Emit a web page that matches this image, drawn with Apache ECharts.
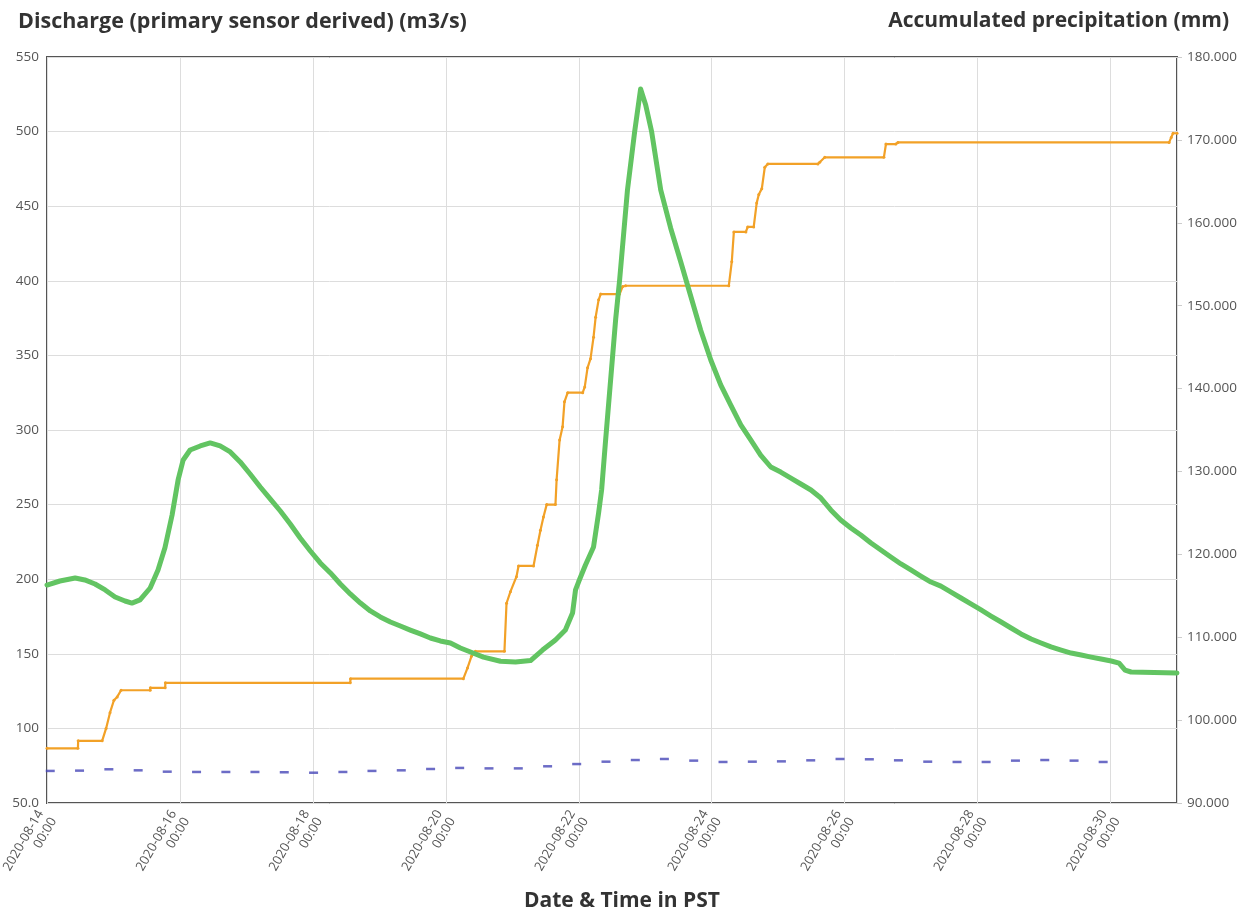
<!DOCTYPE html>
<html><head><meta charset="utf-8">
<script src="https://cdn.jsdelivr.net/npm/echarts@6/dist/echarts.min.js"></script>
<style>html,body{margin:0;padding:0;background:#fff}#c{width:1244px;height:916px}</style>
</head><body><div id="c"></div>
<script>
// Discharge (m3/s), left axis
const greenTimes = ['08-14 00:00','08-14 04:40','08-14 10:10','08-14 13:40','08-14 17:20','08-14 21:00','08-15 00:35','08-15 04:10','08-15 06:40','08-15 09:35','08-15 13:15','08-15 16:05','08-15 18:35','08-15 21:10','08-15 23:20','08-16 01:10','08-16 03:40','08-16 07:20','08-16 10:55','08-16 14:30','08-16 18:10','08-16 21:45','08-17 01:20','08-17 05:00','08-17 08:35','08-17 12:15','08-17 15:50','08-17 19:25','08-17 23:05','08-18 02:40','08-18 06:20','08-18 09:55','08-18 13:30','08-18 17:10','08-18 20:45','08-19 00:20','08-19 04:00','08-19 07:35','08-19 11:10','08-19 14:50','08-19 18:25','08-19 22:00','08-20 01:40','08-20 05:15','08-20 08:55','08-20 13:35','08-20 19:45','08-21 01:10','08-21 06:35','08-21 10:55','08-21 15:35','08-21 19:10','08-21 21:45','08-21 22:50','08-21 23:55','08-22 02:25','08-22 05:20','08-22 07:10','08-22 08:15','08-22 09:40','08-22 11:30','08-22 13:20','08-22 14:45','08-22 17:35','08-22 20:10','08-22 22:20','08-23 00:10','08-23 02:20','08-23 05:35','08-23 09:10','08-23 12:50','08-23 16:25','08-23 20:00','08-23 23:40','08-24 03:15','08-24 06:50','08-24 10:30','08-24 14:05','08-24 17:40','08-24 21:20','08-25 00:55','08-25 04:35','08-25 08:10','08-25 11:50','08-25 15:25','08-25 19:00','08-25 22:35','08-26 02:15','08-26 05:50','08-26 09:30','08-26 13:05','08-26 16:40','08-26 20:20','08-26 23:55','08-27 03:30','08-27 07:10','08-27 10:45','08-27 14:25','08-27 18:00','08-27 21:35','08-28 01:15','08-28 04:50','08-28 08:30','08-28 12:05','08-28 15:40','08-28 19:20','08-28 22:55','08-29 02:30','08-29 06:10','08-29 09:45','08-29 13:25','08-29 17:00','08-29 20:35','08-30 00:15','08-30 03:05','08-30 05:15','08-30 07:25','08-31 00:00'];
const greenValues = [196.1,198.8,200.8,199.5,196.8,192.8,188.1,185.4,184.0,186.1,194.1,206.2,221.1,243.0,266.5,279.9,286.6,289.3,291.3,289.3,285.3,278.6,270.5,261.8,253.8,245.7,237.0,227.6,218.9,210.9,204.2,196.8,190.1,184.0,178.7,174.7,171.3,168.6,165.9,163.3,160.6,158.6,157.2,153.9,151.2,147.8,145.0,144.5,145.5,152.5,159.3,165.9,177.3,192.8,198.1,209.5,221.6,244.4,259.8,292.6,333.5,374.4,400.5,460.9,499.7,528.6,517.8,499.7,460.9,435.4,412.6,389.8,367.0,346.9,330.2,316.8,303.4,293.3,283.2,275.2,271.8,267.8,263.8,259.8,254.4,246.4,239.7,234.3,229.6,224.3,219.6,214.9,210.2,206.2,202.1,198.1,195.4,191.4,187.4,183.4,179.4,175.3,171.3,167.3,163.3,159.9,157.2,154.6,152.5,150.5,149.2,147.8,146.5,145.2,143.8,139.1,137.8,137.1];

// Accumulated precipitation (mm), right axis
const orangeTimes = ['08-14 00:00','08-14 11:10','08-14 11:15','08-14 19:55','08-14 21:20','08-14 22:45','08-15 00:10','08-15 01:20','08-15 02:45','08-15 13:15','08-15 13:20','08-15 18:40','08-15 18:45','08-18 13:30','08-18 13:35','08-20 06:20','08-20 07:50','08-20 09:15','08-20 10:40','08-20 21:10','08-20 21:55','08-20 23:20','08-21 01:30','08-21 02:15','08-21 07:40','08-21 09:05','08-21 10:10','08-21 11:15','08-21 12:25','08-21 15:35','08-21 16:00','08-21 17:05','08-21 18:10','08-21 18:50','08-21 20:00','08-22 01:25','08-22 02:10','08-22 03:10','08-22 04:15','08-22 05:20','08-22 06:05','08-22 07:10','08-22 07:55','08-22 14:45','08-22 15:50','08-22 16:55','08-24 06:10','08-24 07:15','08-24 08:00','08-24 12:20','08-24 13:00','08-24 15:10','08-24 16:15','08-24 17:00','08-24 18:05','08-24 19:10','08-24 20:15','08-25 14:20','08-25 15:00','08-25 16:50','08-26 14:10','08-26 14:55','08-26 18:30','08-26 19:15','08-30 21:10','08-30 21:55','08-30 22:35','08-31 00:00'];
const orangeValues = [96.6,96.6,97.5,97.5,99.0,100.9,102.4,102.8,103.6,103.6,103.9,103.9,104.5,104.5,105.0,105.0,106.3,107.7,108.3,108.3,114.1,115.5,117.3,118.6,118.6,121.1,122.9,124.5,126.0,126.0,129.0,133.8,135.4,138.4,139.5,139.5,140.2,142.5,143.6,146.2,148.6,150.7,151.4,151.4,152.3,152.4,152.4,155.3,158.9,158.9,159.5,159.5,162.4,163.4,164.1,166.7,167.1,167.1,167.3,167.9,167.9,169.5,169.5,169.7,169.7,170.3,170.8,170.8];

// Blue dashed series, left axis
const blueTimes = ['08-14 01:10','08-14 11:45','08-14 22:20','08-15 08:55','08-15 19:25','08-16 06:00','08-16 16:35','08-17 03:05','08-17 13:40','08-18 00:15','08-18 10:50','08-18 21:20','08-19 07:55','08-19 18:30','08-20 05:00','08-20 15:35','08-21 02:10','08-21 12:45','08-21 23:15','08-22 09:50','08-22 20:25','08-23 06:55','08-23 17:30','08-24 04:05','08-24 14:40','08-25 01:10','08-25 11:45','08-25 22:20','08-26 08:55','08-26 19:25','08-27 06:00','08-27 16:35','08-28 03:05','08-28 13:40','08-29 00:15','08-29 10:50','08-29 21:20'];
const blueValues = [71.5,71.7,72.6,71.9,71.0,70.8,70.8,70.8,70.6,70.3,70.8,71.5,71.9,72.8,73.5,73.2,73.2,74.6,76.1,77.7,78.8,79.5,78.4,77.5,77.7,77.9,78.6,79.5,79.3,78.6,77.7,77.5,77.5,78.4,78.8,78.4,77.5];

const leftTitle = 'Discharge (primary sensor derived) (m3/s)';
const rightTitle = 'Accumulated precipitation (mm)';
const xTitle = 'Date & Time in PST';

function T(s){const [md,hm]=s.split(' ');const [M,D]=md.split('-').map(Number);const [h,m]=hm.split(':').map(Number);return Date.UTC(2020,M-1,D,h,m);}
const pair=(ts,vs)=>ts.map((t,i)=>[T(t),vs[i]]);
const p2=n=>String(n).padStart(2,'0');
const DAY=86400000;
const FONT='"Open Sans", "Noto Sans", sans-serif';

const chart=echarts.init(document.getElementById('c'),null,{renderer:'canvas'});
chart.setOption({
  animation:false,
  textStyle:{fontFamily:FONT},
  title:[
    {text:leftTitle,left:13,top:6,textStyle:{fontSize:21.5,fontWeight:'bold',color:'#333',fontFamily:FONT}},
    {text:rightTitle,right:10,top:6,textStyle:{fontSize:21,fontWeight:'bold',color:'#333',fontFamily:FONT}},
    {text:xTitle,left:'center',top:886,textStyle:{fontSize:21,fontWeight:'bold',color:'#333',fontFamily:FONT}}
  ],
  grid:{left:47,right:67,top:57,bottom:113,show:true,borderColor:'#555',borderWidth:2,containLabel:false,outerBoundsMode:'none'},
  xAxis:{type:'value',min:T('08-14 00:00'),max:T('08-31 00:00'),interval:2*DAY,
    axisLine:{show:false},axisTick:{show:false},
    splitLine:{show:true,lineStyle:{color:'#ddd',width:1}},
    axisLabel:{rotate:60,fontSize:13,color:'#555',margin:12,showMaxLabel:false,fontFamily:FONT,lineHeight:15,
      formatter:v=>{const d=new Date(v);return d.getUTCFullYear()+'-'+p2(d.getUTCMonth()+1)+'-'+p2(d.getUTCDate())+'\n'+p2(d.getUTCHours())+':'+p2(d.getUTCMinutes());}}
  },
  yAxis:[
    {type:'value',min:50,max:550,interval:50,position:'left',
      axisLine:{show:false},axisTick:{show:false},
      splitLine:{show:true,lineStyle:{color:'#ddd',width:1}},
      axisLabel:{fontSize:13.5,color:'#555',margin:8,fontFamily:FONT,formatter:v=>v===50?'50.0':String(v)}},
    {type:'value',min:90,max:180,interval:10,position:'right',
      axisLine:{show:false},axisTick:{show:true,length:5,inside:false,lineStyle:{color:'#ccc'}},
      splitLine:{show:false},
      axisLabel:{fontSize:13.5,color:'#555',margin:10,fontFamily:FONT,formatter:v=>v.toFixed(3)}}
  ],
  series:[
    {type:'line',name:'precip',yAxisIndex:1,data:pair(orangeTimes,orangeValues),
      showSymbol:true,symbol:'circle',symbolSize:3,
      lineStyle:{color:'#f2a127',width:2.2},itemStyle:{color:'#f2a127'},z:2},
    {type:'line',name:'discharge',yAxisIndex:0,data:pair(greenTimes,greenValues),
      showSymbol:false,lineStyle:{color:'#62c462',width:5,cap:'round',join:'round'},itemStyle:{color:'#62c462'},z:3},
    {type:'scatter',name:'blue',yAxisIndex:0,data:pair(blueTimes,blueValues),
      symbol:'rect',symbolSize:[9,2.5],itemStyle:{color:'#4747b8'},z:4}
  ]
});
</script></body></html>
